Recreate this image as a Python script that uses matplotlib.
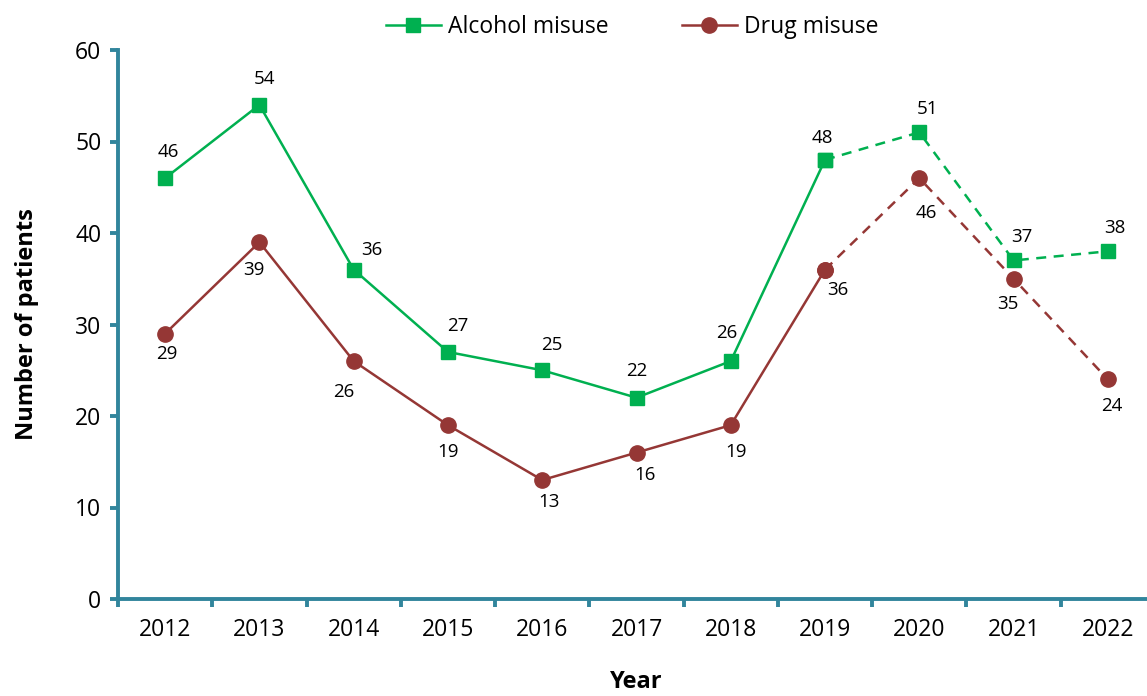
import matplotlib
matplotlib.use("Agg")
from matplotlib import pyplot as plt
import numpy as np

plt.rcParams['font.family'] = ['Open Sans', 'DejaVu Sans']

years = ['2012', '2013', '2014', '2015', '2016', '2017', '2018', '2019', '2020', '2021', '2022']
alcohol = [46, 54, 36, 27, 25, 22, 26, 48, 51, 37, 38]
drug = [29, 39, 26, 19, 13, 16, 19, 36, 46, 35, 24]
solid_end = 7  # index of 2019, dashed after that

green = '#00B050'
red = '#953735'
axis_col = '#31859C'

fig = plt.figure(figsize=(11.47, 6.96), dpi=100)
ax = fig.add_axes([118 / 1147, 1 - 599 / 696, 1037 / 1147, 549 / 696])
x = np.arange(len(years))

# solid part
ax.plot(x[:solid_end + 1], alcohol[:solid_end + 1], color=green, lw=1.8,
        marker='s', ms=10.5, label='Alcohol misuse', zorder=3)
ax.plot(x[:solid_end + 1], drug[:solid_end + 1], color=red, lw=1.8,
        marker='o', ms=11, label='Drug misuse', zorder=3)
# dashed part
ax.plot(x[solid_end:], alcohol[solid_end:], color=green, lw=1.8, ls=(0, (4, 3)),
        marker='s', ms=10.5, zorder=3)
ax.plot(x[solid_end:], drug[solid_end:], color=red, lw=1.8, ls=(0, (4, 3)),
        marker='o', ms=11, zorder=3)

# data labels
a_off = [(2, 19), (4, 19), (13, 14), (7, 19), (7, 18), (0, 19), (-3, 20), (-2, 16), (6, 17), (6, 17), (5, 17)]
d_off = [(1, -15), (-4, -20), (-7, -22), (0, -19), (5, -16), (6, -16), (4, -19), (9, -15), (5, -25), (-4, -18), (3, -19)]
for i in range(len(years)):
    ax.annotate(str(alcohol[i]), (x[i], alcohol[i]), xytext=a_off[i], textcoords='offset points',
                ha='center', va='center', fontsize=13.5, color='black')
    ax.annotate(str(drug[i]), (x[i], drug[i]), xytext=d_off[i], textcoords='offset points',
                ha='center', va='center', fontsize=13.5, color='black')

ax.set_xlim(-0.5, len(years) - 0.5)
ax.set_ylim(0, 60)
ax.set_yticks(range(0, 61, 10))
ax.set_xticks(x)
ax.set_xticklabels(years)
ax.set_xticks(np.arange(-0.5, len(years), 1), minor=True)
ax.tick_params(axis='x', which='major', length=0, pad=14, labelsize=16.5)
ax.tick_params(axis='x', which='minor', length=6, width=2.8, color=axis_col, direction='out')
ax.tick_params(axis='y', length=6, width=2.8, color=axis_col, direction='out', pad=6, labelsize=16.5)

for s in ['top', 'right']:
    ax.spines[s].set_visible(False)
for s in ['left', 'bottom']:
    ax.spines[s].set_color(axis_col)
    ax.spines[s].set_linewidth(2.8)

ax.set_ylabel('Number of patients', fontsize=17, fontweight='bold', labelpad=26)
ax.set_xlabel('Year', fontsize=17, fontweight='bold', labelpad=20)

fig.legend(loc='upper center', bbox_to_anchor=(0.551, 1.008), ncol=2, frameon=False,
           fontsize=16.5, handlelength=2.4, columnspacing=3.2, handletextpad=0.3)

fig.savefig('out.png', dpi=100)
